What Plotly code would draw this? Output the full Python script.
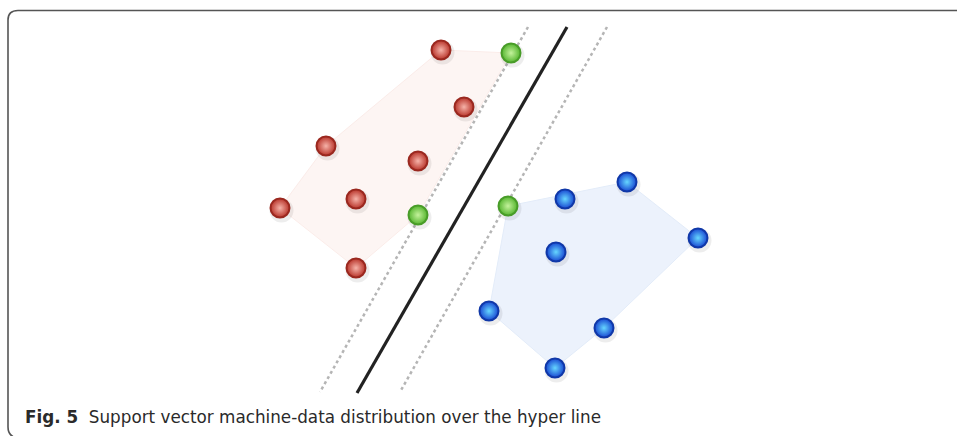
import plotly.graph_objects as go

# ---- data (abstract plane units) ----
red_x = [44.1, 46.4, 32.6, 41.8, 35.6, 28.0, 35.6]
red_y = [38.6, 32.9, 29.0, 27.5, 23.7, 22.8, 16.8]
green_x = [51.1, 41.8, 50.8]
green_y = [38.3, 22.1, 23.0]
blue_x = [56.5, 62.7, 69.8, 55.6, 48.9, 60.4, 55.5]
blue_y = [23.7, 25.4, 19.8, 18.4, 12.5, 10.8, 6.8]

# hull vertex lists: (group, index)
red_hull = [("r", 0), ("g", 0), ("g", 1), ("r", 6), ("r", 5), ("r", 2)]
blue_hull = [("g", 2), ("b", 1), ("b", 2), ("b", 5), ("b", 6), ("b", 4)]

# hyper line and margins (endpoints)
hyper_x = [56.7, 35.7]
hyper_y = [40.9, 4.3]
margin_left_x = [52.8, 32.0]
margin_left_y = [40.9, 4.4]
margin_right_x = [60.7, 40.0]
margin_right_y = [40.9, 4.4]

caption_bold = "Fig. 5"
caption_text = "Support vector machine-data distribution over the hyper line"

W, H = 957, 436
XR, YR = 95.7, 43.6

groups = {"r": (red_x, red_y), "g": (green_x, green_y), "b": (blue_x, blue_y)}


def hull_xy(h):
    xs = [groups[g][0][i] for g, i in h]
    ys = [groups[g][1][i] for g, i in h]
    return xs + xs[:1], ys + ys[:1]


fig = go.Figure()

hx, hy = hull_xy(red_hull)
fig.add_trace(go.Scatter(x=hx, y=hy, mode="lines", fill="toself",
                         fillcolor="#fdf5f3", line=dict(color="#fbece9", width=1),
                         hoverinfo="skip", showlegend=False))
hx, hy = hull_xy(blue_hull)
fig.add_trace(go.Scatter(x=hx, y=hy, mode="lines", fill="toself",
                         fillcolor="#ecf2fc", line=dict(color="#e3ecf9", width=1),
                         hoverinfo="skip", showlegend=False))

# lines
fig.add_trace(go.Scatter(x=margin_left_x, y=margin_left_y, mode="lines",
                         line=dict(color="#b5b5b5", width=2.5, dash="dot"),
                         hoverinfo="skip", showlegend=False))
fig.add_trace(go.Scatter(x=margin_right_x, y=margin_right_y, mode="lines",
                         line=dict(color="#b5b5b5", width=2.5, dash="dot"),
                         hoverinfo="skip", showlegend=False))
fig.add_trace(go.Scatter(x=hyper_x, y=hyper_y, mode="lines",
                         line=dict(color="#222222", width=3.2),
                         hoverinfo="skip", showlegend=False))

styles = [
    (red_x, red_y, "#b8342a", "#f6b3a9", "#9a281f"),
    (green_x, green_y, "#55b52f", "#c4f29c", "#489c28"),
    (blue_x, blue_y, "#1848d2", "#66d6ff", "#1038a8"),
]
# shadows
for xs, ys, c, cc, lc in styles:
    fig.add_trace(go.Scatter(x=[v + 0.15 for v in xs], y=[v - 0.25 for v in ys],
                             mode="markers",
                             marker=dict(size=24, color="rgba(0,0,0,0.07)", line=dict(width=0)),
                             hoverinfo="skip", showlegend=False))
for xs, ys, c, cc, lc in styles:
    fig.add_trace(go.Scatter(x=xs, y=ys, mode="markers",
                             marker=dict(size=19, color=c,
                                         gradient=dict(type="radial", color=cc),
                                         line=dict(color=lc, width=2)),
                             hoverinfo="skip", showlegend=False))

# border (rounded top-left / bottom-left)
fig.add_shape(type="path", xref="x", yref="y",
              path=f"M 1.65,{-0.2} Q 0.8,0.0 0.8,0.9 L 0.8,41.6 Q 0.8,42.55 1.8,42.55 L {XR + 1},42.55",
              line=dict(color="#555555", width=1.6))

fig.add_annotation(x=2.3, y=(H - 417) / 10, xref="x", yref="y",
                   text=f"<b>{caption_bold}</b>  {caption_text}",
                   showarrow=False, xanchor="left", yanchor="middle",
                   font=dict(family="DejaVu Sans", size=16.8, color="#2a2a2a"))

fig.update_xaxes(range=[0, XR], visible=False, fixedrange=True)
fig.update_yaxes(range=[0, YR], visible=False, fixedrange=True)
fig.update_layout(width=W, height=H, margin=dict(l=0, r=0, t=0, b=0),
                  paper_bgcolor="white", plot_bgcolor="white")

fig.write_html("out.html", config={"displayModeBar": False},
               post_script="document.body.style.margin='0';document.body.style.overflow='hidden';")
